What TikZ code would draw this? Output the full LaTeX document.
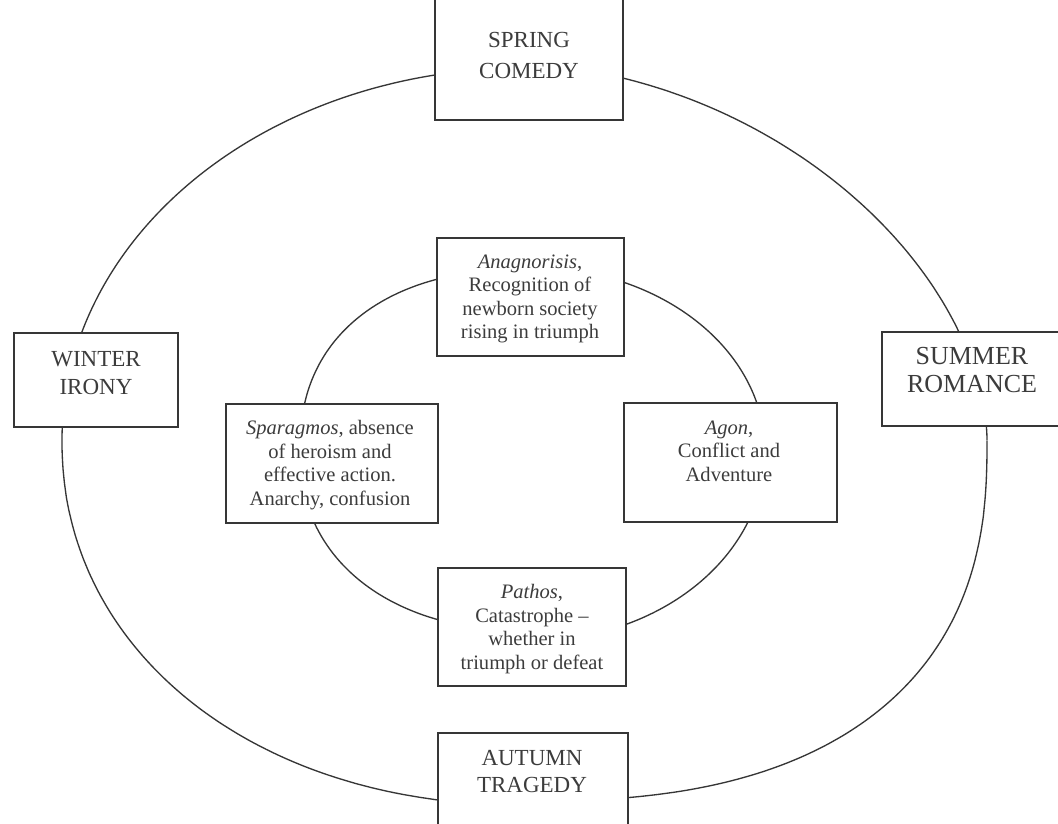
\documentclass[tikz,border=0pt]{standalone}
\usepackage{fontspec}
\setmainfont{Liberation Serif}
\definecolor{linecol}{HTML}{363636}
\definecolor{txtcol}{HTML}{3C3C3C}
% quarter of a super-ellipse: cx, cy, a, b, n, t1, t2, sign x, sign y
\newcommand{\qarc}[9]{\draw[ring] plot[domain=#6:#7, samples=90, smooth]
  ({#1 + (#8)*#3*pow(abs(cos(\x)),2/#5)}, {#2 - (#9)*#4*pow(abs(sin(\x)),2/#5)});}
\begin{document}
\begin{tikzpicture}[x=0.75pt,y=-0.75pt,
  box/.style={draw=linecol, line width=1.3pt, fill=white, rectangle, inner sep=0pt},
  outertxt/.style={text=txtcol, align=center, inner sep=0pt, font=\fontsize{17.25}{20.6}\selectfont},
  innertxt/.style={text=txtcol, align=center, inner sep=0pt, font=\fontsize{15.4}{17.6}\selectfont},
  ring/.style={draw=linecol, line width=1pt}]
\useasboundingbox (0,0) rectangle (1058,824);
\clip (0,0) rectangle (1058,824);
\fill[white] (0,0) rectangle (1058,824);

% outer ring (four quarters)
\qarc{524}{440}{462}{372}{2}{0.01}{89.99}{-1}{1}
\qarc{524}{440}{462}{365}{2.1}{0.01}{89.99}{-1}{-1}
\qarc{524}{440}{463}{375}{1.8}{0.01}{89.99}{1}{1}
\qarc{524}{440}{463}{361}{2.5}{0.01}{89.99}{1}{-1}

% inner ring (four quarters)
\qarc{530}{451}{230}{182}{2.3}{0.01}{89.99}{-1}{1}
\qarc{530}{451}{230}{180}{2.2}{0.01}{89.99}{-1}{-1}
\qarc{530}{451}{235}{184}{2}{0.01}{89.99}{1}{1}
\qarc{530}{451}{235}{190}{2}{0.01}{89.99}{1}{-1}

% outer boxes
\node[box, minimum width=141pt, minimum height=97.5pt] (spring) at (529,55) {};
\node[outertxt, font=\fontsize{17.25}{23.25}\selectfont] (springT) at (529,55) {SPRING\\COMEDY};

\node[box, minimum width=123pt, minimum height=70.5pt] (winter) at (96,380) {};
\node[outertxt] (winterT) at (96,373) {WINTER\\IRONY};

\node[box, minimum width=141pt, minimum height=70.5pt] (summer) at (976,379) {};
\node[outertxt, font=\fontsize{19.5}{20.6}\selectfont] (summerT) at (972,370) {SUMMER\\ROMANCE};

\node[box, minimum width=142.5pt, minimum height=80.25pt] (autumn) at (533,786.5) {};
\node[outertxt] (autumnT) at (532,771.5) {AUTUMN\\TRAGEDY};

% inner boxes
\node[box, minimum width=140.25pt, minimum height=88.5pt] (anag) at (530.5,297) {};
\node[innertxt] (anagT) at (530,299) {\textit{Anagnorisis},\\Recognition of\\newborn society\\rising in triumph};

\node[box, minimum width=159.75pt, minimum height=89.25pt] (agon) at (730.5,462.5) {};
\node[innertxt] (agonT) at (729,451) {\textit{Agon},\\Conflict and\\Adventure};

\node[box, minimum width=159pt, minimum height=89.25pt] (sparag) at (332,463.5) {};
\node[innertxt] (sparagT) at (330,465) {\textit{Sparagmos}, absence\\of heroism and\\effective action.\\Anarchy, confusion};

\node[box, minimum width=141pt, minimum height=88.5pt] (pathos) at (532,627) {};
\node[innertxt] (pathosT) at (532,629) {\textit{Pathos},\\Catastrophe --\\whether in\\triumph or defeat};
\end{tikzpicture}
\end{document}
